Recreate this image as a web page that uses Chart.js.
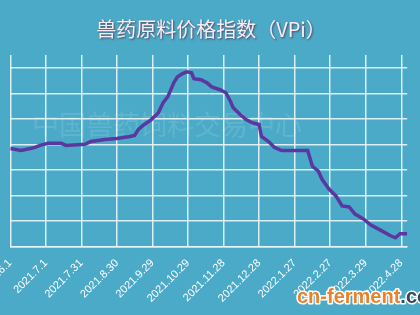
<!DOCTYPE html>
<html>
<head>
<meta charset="utf-8">
<script src="https://cdn.jsdelivr.net/npm/chart.js@4.4.0/dist/chart.umd.min.js"></script>
<style>
  html, body { margin: 0; padding: 0; background: #4aaac8; overflow: hidden; }
  #wrap { position: absolute; left: -30px; top: 0; width: 450px; height: 315px; }
</style>
</head>
<body>
<div id="wrap"><canvas id="vpiChart"></canvas></div>
<script>
// tick labels, one every 30 days from 2021.6.1
var dateLabels = ['2021.6.1', '2021.7.1', '2021.7.31', '2021.8.30', '2021.9.29', '2021.10.29',
  '2021.11.28', '2021.12.28', '2022.1.27', '2022.2.27', '2022.3.29', '2022.4.28'];

// days after 2021.6.1 and the index
var days = [0, 9, 17, 21, 25, 32, 43, 47, 63, 68, 80, 90, 101, 105, 108, 112, 119, 125, 129, 133,
  138, 141, 145, 149, 153, 155, 161, 166, 170, 177, 182, 186, 188, 194, 199, 204, 210, 212, 218,
  223, 229, 251, 255, 260, 263, 269, 275, 280, 286, 291, 298, 304, 312, 321, 325, 329, 335];
var vpi = [78.5, 77.7, 78.5, 78.9, 79.7, 80.5, 80.5, 79.7, 80.1, 81.2, 82.0, 82.4, 83.2, 83.6,
  85.9, 87.5, 89.8, 92.5, 96.4, 98.8, 104.2, 106.5, 107.7, 108.5, 108.1, 105.8, 105.4, 104.2,
  102.6, 101.5, 100.3, 96.8, 94.5, 91.8, 89.8, 88.6, 87.9, 83.2, 81.2, 78.9, 77.7, 77.7, 71.5,
  69.6, 66.5, 62.6, 59.8, 56.0, 55.6, 52.8, 50.9, 48.6, 46.6, 44.3, 43.5, 45.1, 45.1];

var points = days.map(function(d, i) { return { x: d, y: vpi[i] }; });
var gridColor = 'rgba(235,246,250,0.9)';

var decor = {
  id: 'decor',
  beforeDatasetsDraw: function(chart) {
    var c = chart.ctx;
    c.save();
    c.font = '27px "Noto Sans CJK SC"';
    c.fillStyle = 'rgba(255,255,255,0.12)';
    c.textBaseline = 'middle';
    c.fillText('中国兽药饲料交易中心', 62, 125);
    c.restore();
  },
  afterDraw: function(chart) {
    var c = chart.ctx;
    c.save();
    c.font = '20px "Noto Sans CJK SC"';
    c.textAlign = 'center';
    c.textBaseline = 'middle';
    c.shadowColor = 'rgba(90,40,70,0.8)';
    c.shadowBlur = 2;
    c.shadowOffsetX = 1;
    c.shadowOffsetY = 1;
    c.fillStyle = '#f6eef3';
    c.fillText('兽药原料价格指数（VPi）', 241, 29);
    c.restore();

    c.save();
    c.font = 'bold 20px "Liberation Sans"';
    c.textBaseline = 'alphabetic';
    c.lineJoin = 'round';
    c.lineWidth = 3;
    c.strokeStyle = '#ffffff';
    c.strokeText('cn-ferment', 327, 303);
    c.fillStyle = '#e8832c';
    c.fillText('cn-ferment', 327, 303);
    var w = c.measureText('cn-ferment').width;
    c.strokeText('.com', 327 + w, 303);
    c.fillStyle = '#2f4a5a';
    c.fillText('.com', 327 + w, 303);
    c.restore();
  }
};

new Chart(document.getElementById('vpiChart'), {
  type: 'line',
  data: {
    datasets: [{
      label: 'VPi',
      data: points,
      borderColor: '#5b38a0',
      borderWidth: 3.5,
      pointRadius: 0,
      tension: 0,
      fill: false
    }]
  },
  options: {
    responsive: true,
    maintainAspectRatio: false,
    animation: false,
    layout: { padding: { top: 55, right: 0, bottom: 0, left: 0 } },
    plugins: { legend: { display: false }, tooltip: { enabled: false }, title: { display: false } },
    scales: {
      x: {
        type: 'linear',
        min: 0,
        max: 335,
        afterBuildTicks: function(axis) {
          axis.ticks = dateLabels.map(function(l, i) { return { value: i * 30 }; });
        },
        ticks: {
          color: '#ffffff',
          font: { family: 'Liberation Sans', size: 11 },
          maxRotation: 45,
          minRotation: 45,
          autoSkip: false,
          padding: 10,
          callback: function(v) { return dateLabels[Math.round(v / 30)]; }
        },
        grid: { color: gridColor, lineWidth: 1.5, drawTicks: false },
        border: { color: gridColor, width: 1.5 }
      },
      y: {
        min: 40,
        max: 115.1,
        ticks: { display: false, stepSize: 10, includeBounds: false },
        grid: { color: gridColor, lineWidth: 1.5, drawTicks: false },
        border: { display: false }
      }
    }
  },
  plugins: [decor]
});
</script>
</body>
</html>
